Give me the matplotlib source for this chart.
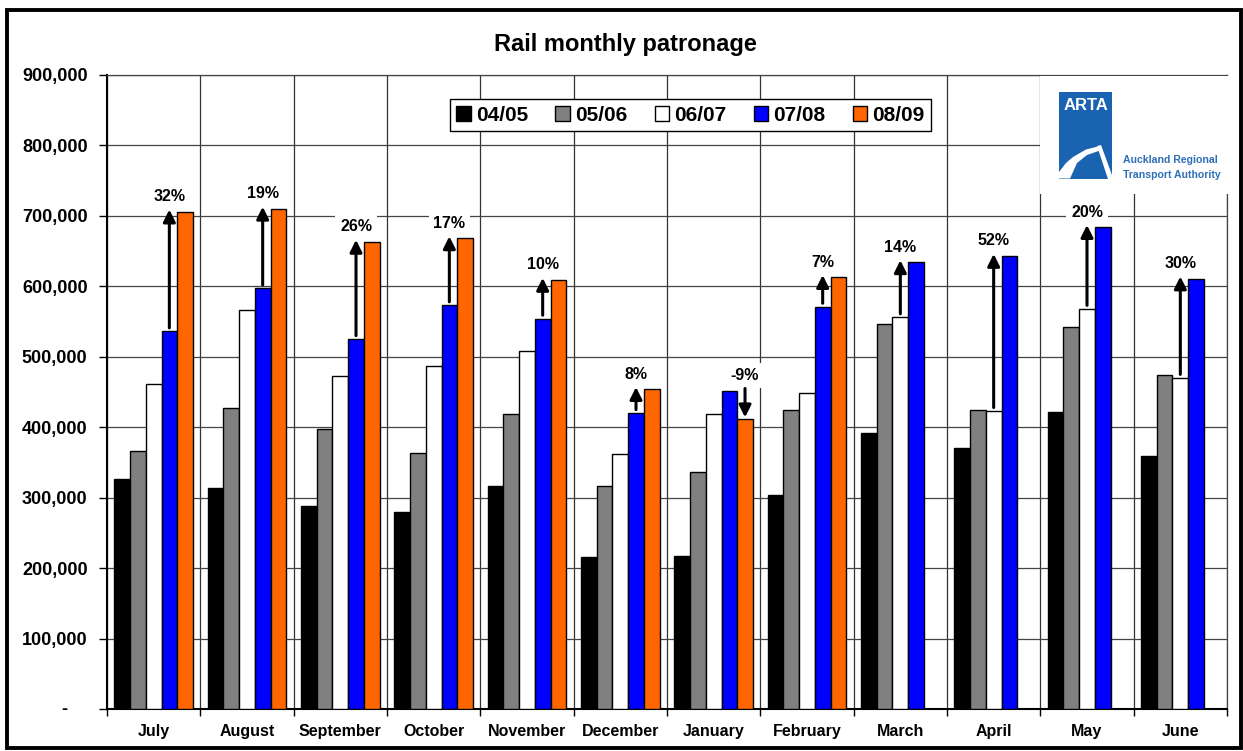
import numpy as np
import matplotlib
matplotlib.use("Agg")
import matplotlib.pyplot as plt
from matplotlib.patches import Rectangle, Polygon
from matplotlib.ticker import FuncFormatter
import matplotlib.transforms as mtransforms

plt.rcParams['font.family'] = ['Liberation Sans', 'DejaVu Sans']
plt.rcParams['font.weight'] = 'bold'

months = ['July', 'August', 'September', 'October', 'November', 'December',
          'January', 'February', 'March', 'April', 'May', 'June']
series_names = ['04/05', '05/06', '06/07', '07/08', '08/09']
series_colors = ['#000000', '#808080', '#FFFFFF', '#0000FF', '#FF6600']

y0405 = [327000, 314000, 288000, 279000, 317000, 216000, 217000, 304000, 392000, 371000, 422000, 359000]
y0506 = [366000, 427000, 398000, 363000, 419000, 316000, 336000, 424000, 546000, 425000, 542000, 474000]
y0607 = [461000, 567000, 473000, 487000, 508000, 362000, 419000, 448000, 556000, 423000, 568000, 470000]
y0708 = [536000, 597000, 525000, 573000, 554000, 420000, 452000, 571000, 634000, 643000, 684000, 611000]
y0809 = [706000, 710000, 663000, 668000, 609000, 454000, 411000, 613000]  # Jul-Feb only

pct_labels = ['32%', '19%', '26%', '17%', '10%', '8%', '-9%', '7%', '14%', '52%', '20%', '30%']

W, H = 1243, 751
fig = plt.figure(figsize=(W / 100, H / 100), dpi=100)
ax = fig.add_axes([107 / W, 1 - 709 / H, 1120 / W, 634 / H])

x = np.arange(len(months))
bw = 0.168
all_series = [y0405, y0506, y0607, y0708, y0809]
handles = []
for i, (vals, col, name) in enumerate(zip(all_series, series_colors, series_names)):
    xs = x[:len(vals)] + (i - 2) * bw
    b = ax.bar(xs, vals, width=bw, color=col, edgecolor='black', linewidth=1.0,
               label=name, zorder=3)
    handles.append(b)

ax.set_xlim(-0.5, 11.5)
ax.set_ylim(0, 900000)
ax.set_yticks(np.arange(0, 900001, 100000))
ax.yaxis.set_major_formatter(FuncFormatter(lambda v, p: '' if v == 0 else f'{int(v):,}'))
ax.set_xticks(x)
ax.set_xticklabels(months, fontsize=11.5, fontweight='bold')
ax.set_xticks(np.arange(-0.5, 12, 1), minor=True)
ax.tick_params(axis='x', which='major', length=0, pad=11)
ax.tick_params(axis='x', which='minor', length=5, width=1, direction='out')
ax.tick_params(axis='y', length=6, width=1, direction='out', pad=8, labelsize=13)
for lab in ax.get_yticklabels():
    lab.set_fontweight('bold')

blend = mtransforms.blended_transform_factory(ax.transAxes, ax.transData)
ax.text(-0.0384, 0, '-', transform=blend, ha='center', va='center',
        fontsize=13, fontweight='bold')

ax.set_axisbelow(True)
ax.grid(which='minor', axis='x', color='#333333', linewidth=0.9)
ax.grid(which='major', axis='y', color='#444444', linewidth=0.9)
ax.grid(which='major', axis='x', visible=False)
for s in ['left', 'bottom']:
    ax.spines[s].set_linewidth(1.5)
    ax.spines[s].set_color('black')
for s in ['top', 'right']:
    ax.spines[s].set_linewidth(0.9)
    ax.spines[s].set_color('#444444')

# growth arrows
for k, lab in enumerate(pct_labels):
    if k < len(y0809):
        base, target, xa = y0708[k], y0809[k], x[k] + 1 * bw
    else:
        base, target, xa = y0607[k], y0708[k], x[k] + 0 * bw
    if target >= base:
        tail, tip = base + 5000, target + 3000
        top = tip
    else:
        xa = x[k] + 2 * bw
        tail, tip = base + 3000, target + 3000
        top = tail
    ax.annotate('', xy=(xa, tip), xytext=(xa, tail),
                arrowprops=dict(arrowstyle='-|>,head_length=0.6,head_width=0.3',
                                lw=2.2, color='black', mutation_scale=12,
                                shrinkA=0, shrinkB=0), zorder=6)
    ax.annotate(lab, xy=(xa, top), xytext=(0, 13), textcoords='offset pixels',
                ha='center', va='center', fontsize=11.5, fontweight='bold', zorder=5,
                bbox=dict(boxstyle='square,pad=0.3', fc='white', ec='none'))

leg = ax.legend(handles=handles, loc='upper center', bbox_to_anchor=(0.521, 0.978),
                ncol=5, prop={'weight': 'bold', 'size': 15},
                frameon=True, fancybox=False, framealpha=1, edgecolor='black',
                handlelength=0.7, handleheight=0.7, handletextpad=0.25,
                columnspacing=1.3, borderpad=0.3)
leg.get_frame().set_linewidth(1.0)
leg.set_zorder(7)

fig.text(625.5 / W, 1 - 45 / H, 'Rail monthly patronage', ha='center', va='center',
         fontsize=17, fontweight='bold')

# ARTA logo
lax = fig.add_axes([1040 / W, 1 - 194 / H, 193 / W, 118 / H])
lax.set_xlim(1040, 1233)
lax.set_ylim(194, 76)
lax.set_axis_off()
lax.add_patch(Rectangle((1040, 76), 193, 118, fc='white', ec='none'))
lax.plot([1040, 1233], [193.5, 193.5], color='#cccccc', lw=0.8)
lax.add_patch(Rectangle((1059, 92), 53, 87, fc='#1a63b1', ec='none'))
lax.text(1085.5, 106, 'ARTA', color='white', ha='center', va='center',
         fontsize=12, fontweight='bold')
lax.add_patch(Polygon([(1059, 172), (1066, 163), (1073, 157), (1086, 149.5), (1100, 146),
                       (1100, 150.5), (1087, 155), (1077, 163), (1070, 178.5), (1059, 178.5)],
                      closed=True, fc='white', ec='none'))
lax.add_patch(Polygon([(1097, 146), (1101, 145), (1112, 175), (1112, 179), (1108, 179)],
                      closed=True, fc='white', ec='none'))
lax.text(1123, 160, 'Auckland Regional', color='#2e6fb7', ha='left', va='center',
         fontsize=7.6, fontweight='bold')
lax.text(1123, 175, 'Transport Authority', color='#2e6fb7', ha='left', va='center',
         fontsize=7.6, fontweight='bold')

fig.patches.append(Rectangle((7 / W, 1 - 748 / H), 1234 / W, 738.5 / H,
                             transform=fig.transFigure, fill=False, ec='black', lw=2.8))

fig.savefig('out.png', dpi=100)
